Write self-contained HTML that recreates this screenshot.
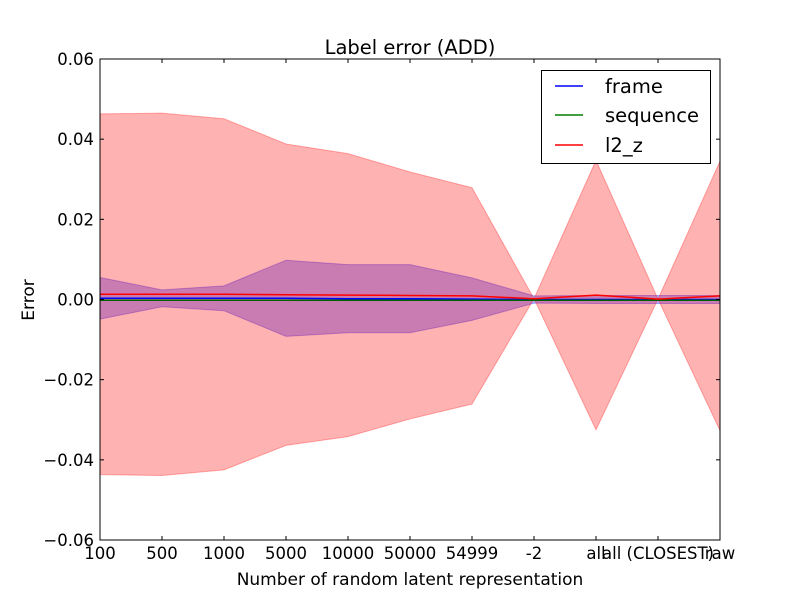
<!DOCTYPE html>
<html><head><meta charset="utf-8"><style>
body{margin:0;background:#fff;}
svg text{font-family:"DejaVu Sans","Liberation Sans",sans-serif;}
</style></head><body>
<svg id="chart" width="800" height="600" xmlns="http://www.w3.org/2000/svg">
<rect width="800" height="600" fill="#fff"/>
<g id="bands"></g><g id="lines"></g><g id="axes"></g>
</svg>
<script>
const categories=["100","500","1000","5000","10000","50000","54999","-2","all","all (CLOSEST)","raw"];
const frameVals=[0.0003,0.0003,0.0003,0.0003,0.0002,0.0002,0.0001,0,0,0,0];
const frameStd=[0.0052,0.0021,0.0031,0.0095,0.0085,0.0085,0.0053,0.0009,0.001,0.001,0.001];
const sequenceVals=[-0.0002,-0.0002,-0.0002,-0.0002,-0.0002,-0.0002,-0.0002,-0.0002,-0.0002,-0.0002,-0.0002];
const sequenceStd=[0,0,0,0,0,0,0,0,0,0,0];
const l2zVals=[0.0013,0.0013,0.0013,0.0012,0.0011,0.001,0.0009,0.0002,0.0011,0.0001,0.0009];
const l2zStd=[0.045,0.0452,0.0438,0.0376,0.0353,0.0308,0.027,0,0.0336,0,0.0336];
const yTicks=[-0.06,-0.04,-0.02,0,0.02,0.04,0.06];
const yTickLabels=["\u22120.06","\u22120.04","\u22120.02","0.00","0.02","0.04","0.06"];
const L=100,R=720,T=59,B=540;
const NS="http://www.w3.org/2000/svg";
const xs=i=>L+(R-L)*i/(categories.length-1);
const ys=v=>B-(v+0.06)/0.12*(B-T);
function mk(tag,attrs,parent){const e=document.createElementNS(NS,tag);for(const k in attrs)e.setAttribute(k,attrs[k]);parent.appendChild(e);return e;}
const svg=document.getElementById('chart');
const bands=document.getElementById('bands'),lines=document.getElementById('lines'),axes=document.getElementById('axes');
function band(vals,std,color,name){
  let up=vals.map((v,i)=>xs(i)+','+ys(v+std[i]));
  let dn=vals.map((v,i)=>xs(i)+','+ys(v-std[i])).reverse();
  const p=mk('polygon',{points:up.concat(dn).join(' '),fill:color,'fill-opacity':0.3,stroke:color,'stroke-opacity':0.3},bands);
  
  
}
band(frameVals,frameStd,'#0000ff','frame-band');
band(sequenceVals,sequenceStd,'#008000','sequence-band');
band(l2zVals,l2zStd,'#ff0000','l2-z-band');
function line(vals,color,name){
  const p=mk('polyline',{points:vals.map((v,i)=>xs(i)+','+ys(v)).join(' '),fill:'none',stroke:color,'stroke-width':1.5},lines);
  
  
}
line(frameVals,'#0000ff','frame-line');
line(sequenceVals,'#006000','sequence-line');
line(l2zVals,'#ff0000','l2-z-line');
const frame=mk('rect',{x:L,y:T,width:R-L,height:B-T,fill:'none',stroke:'#000','stroke-width':1},axes);


categories.forEach((c,i)=>{
  const x=xs(i);
  mk('line',{x1:x,x2:x,y1:B,y2:B-4,stroke:'#000'},axes);
  mk('line',{x1:x,x2:x,y1:T,y2:T+4,stroke:'#000'},axes);
  const t=mk('text',{x:x,y:B+19,'text-anchor':'middle','font-size':16.5},axes);
  t.textContent=c;
  
  
});
yTicks.forEach((v,i)=>{
  const y=ys(v);
  mk('line',{x1:L,x2:L+4,y1:y,y2:y,stroke:'#000'},axes);
  mk('line',{x1:R,x2:R-4,y1:y,y2:y,stroke:'#000'},axes);
  const t=mk('text',{x:L-6,y:y+6,'text-anchor':'end','font-size':16.5},axes);
  t.textContent=yTickLabels[i];
  
  
});
</script>
<svg style="position:absolute;left:0;top:0" width="800" height="600">
<text x="410" y="54" text-anchor="middle" font-size="19.5" font-family="DejaVu Sans, Liberation Sans, sans-serif">Label error (ADD)</text>
<text x="410" y="585" text-anchor="middle" font-size="17" font-family="DejaVu Sans, Liberation Sans, sans-serif">Number of random latent representation</text>
<text transform="translate(34,300) rotate(-90)" text-anchor="middle" font-size="17" font-family="DejaVu Sans, Liberation Sans, sans-serif">Error</text>
<g>
<rect x="541.5" y="70.5" width="169" height="93" fill="#fff" stroke="#000"/>
<line x1="555" x2="583" y1="86" y2="86" stroke="#0000ff" stroke-width="1.5"/>
<text x="605" y="93" font-size="19.5" font-family="DejaVu Sans, Liberation Sans, sans-serif">frame</text>
<line x1="555" x2="583" y1="115" y2="115" stroke="#008000" stroke-width="1.5"/>
<text x="605" y="122" font-size="19.5" font-family="DejaVu Sans, Liberation Sans, sans-serif">sequence</text>
<line x1="555" x2="583" y1="145" y2="145" stroke="#ff0000" stroke-width="1.5"/>
<text x="605" y="152" font-size="19.5" font-family="DejaVu Sans, Liberation Sans, sans-serif">l2_z</text>
</g>
</svg>
</body></html>
